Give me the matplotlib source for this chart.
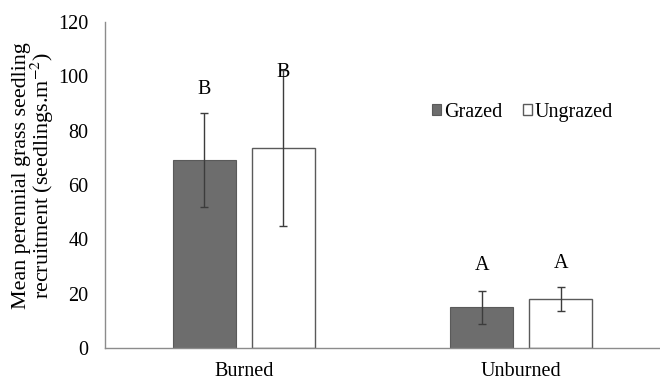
import matplotlib
matplotlib.use("Agg")
import matplotlib.pyplot as plt
import numpy as np

categories = ["Burned", "Unburned"]
series = ["Grazed", "Ungrazed"]
grazed_vals = [69.2, 15.0]
grazed_err = [17.4, 6.0]
ungrazed_vals = [73.7, 18.2]
ungrazed_err = [28.8, 4.4]
grazed_letters = ["B", "A"]
ungrazed_letters = ["B", "A"]
grazed_letter_y = [95.0, 30.4]
ungrazed_letter_y = [101.6, 31.0]
yticks = [0, 20, 40, 60, 80, 100, 120]

plt.rcParams['font.family'] = ['Liberation Serif', 'DejaVu Serif']
plt.rcParams['mathtext.fontset'] = 'stix'

FS = 14.5

fig = plt.figure(figsize=(6.6, 3.83), dpi=100)
ax = fig.add_axes([0.159, 0.0914, 0.841, 0.851])

x = np.arange(len(categories))
w = 0.227
off = 0.142
ax.bar(x - off, grazed_vals, w, color='#6d6d6d', edgecolor='#5a5a5a', linewidth=0.8,
       label=series[0], zorder=2)
ax.bar(x + off, ungrazed_vals, w, color='white', edgecolor='#5a5a5a', linewidth=1.0,
       label=series[1], zorder=2)
ax.errorbar(x - off, grazed_vals, yerr=grazed_err, fmt='none', ecolor='#3c3c3c',
            elinewidth=1.0, capsize=3.2, capthick=1.0, zorder=3)
ax.errorbar(x + off, ungrazed_vals, yerr=ungrazed_err, fmt='none', ecolor='#3c3c3c',
            elinewidth=1.0, capsize=3.2, capthick=1.0, zorder=3)

for i in range(len(categories)):
    ax.text(x[i] - off, grazed_letter_y[i], grazed_letters[i], ha='center', va='center',
            fontsize=FS, color='black')
    ax.text(x[i] + off, ungrazed_letter_y[i], ungrazed_letters[i], ha='center', va='center',
            fontsize=FS, color='black')

ax.set_xlim(-0.5, 1.5)
ax.set_ylim(0, 120)
ax.set_yticks(yticks)
ax.set_xticks(x)
ax.set_xticklabels(categories, fontsize=FS)
ax.tick_params(axis='both', length=0, labelsize=FS, colors='black')
ax.tick_params(axis='y', pad=12)
ax.tick_params(axis='x', pad=10)
ax.spines['top'].set_visible(False)
ax.spines['right'].set_visible(False)
ax.spines['left'].set_color('#8c8c8c')
ax.spines['bottom'].set_color('#8c8c8c')
ax.spines['left'].set_linewidth(1.0)
ax.spines['bottom'].set_linewidth(1.0)

fig.text(34 / 660, 1 - 176 / 383,
         "Mean perennial grass seedling\nrecruitment (seedlings.m$^{-2}$)",
         rotation=90, ha='center', va='center', fontsize=15.8,
         linespacing=0.92, multialignment='center')

leg = ax.legend(loc='center left', bbox_to_anchor=(0.575, 0.724), ncol=2, frameon=False,
                fontsize=FS, handlelength=0.45, handleheight=0.45, handletextpad=0.15,
                columnspacing=1.0, borderaxespad=0)

fig.savefig("out.png", dpi=100)
